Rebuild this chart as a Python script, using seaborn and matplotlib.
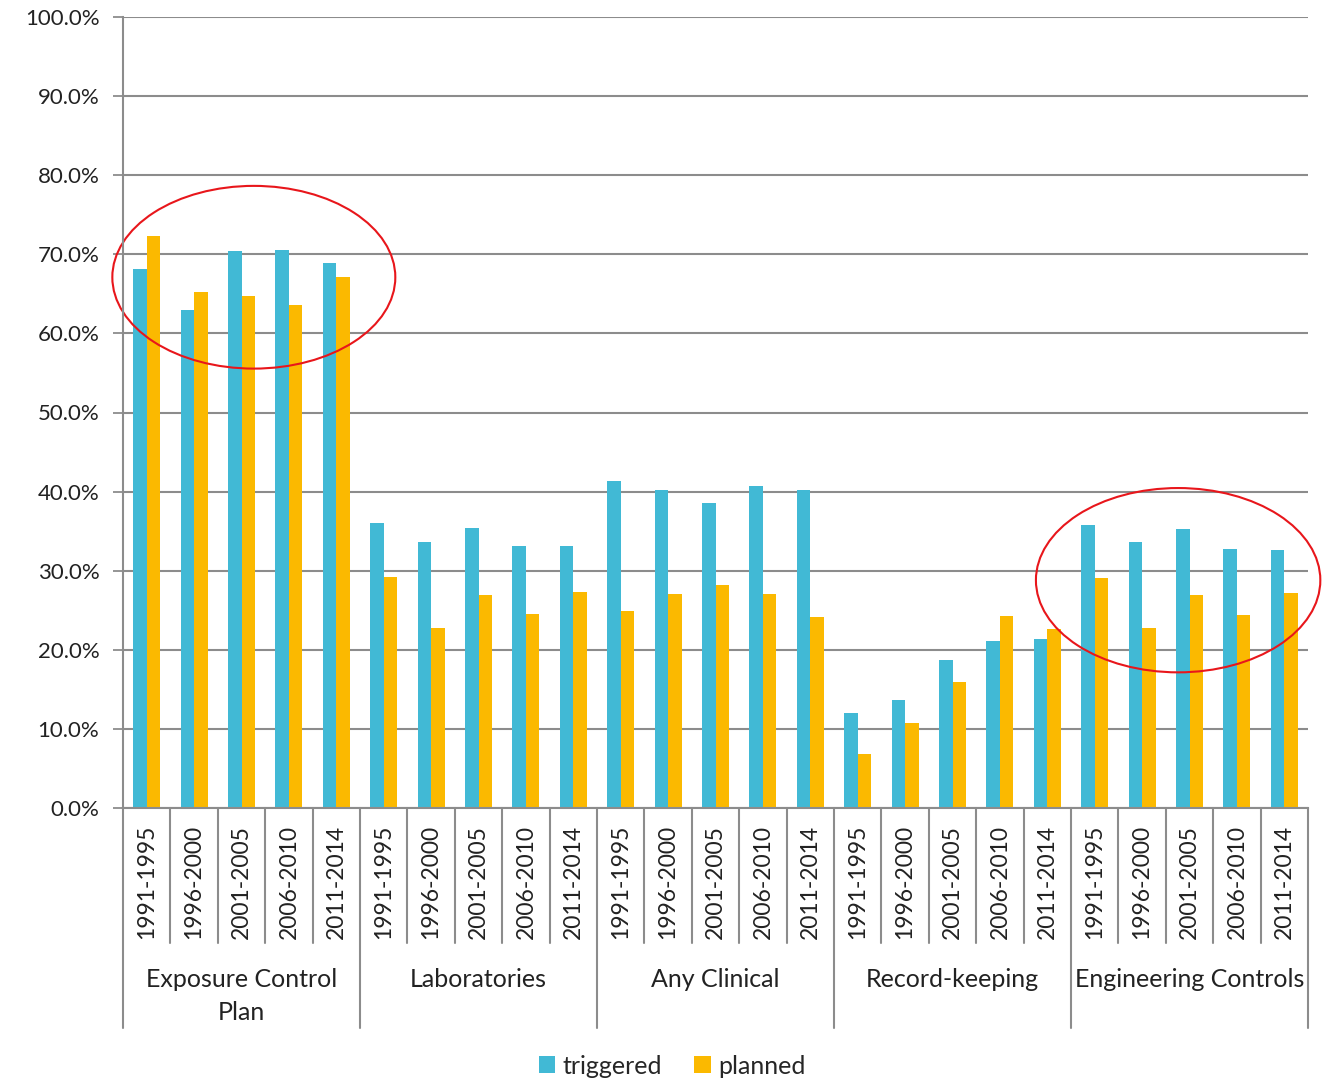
import matplotlib
matplotlib.use("Agg")
import matplotlib.pyplot as plt
import matplotlib.transforms as mtransforms
from matplotlib.patches import Ellipse, Patch
import pandas as pd
import seaborn as sns

# Compliance share by topic and period
groups = ["Exposure Control\nPlan", "Laboratories", "Any Clinical", "Record-keeping", "Engineering Controls"]
periods = ["1991-1995", "1996-2000", "2001-2005", "2006-2010", "2011-2014"]
triggered = [
    [68.2, 63.0, 70.4, 70.6, 68.9],
    [36.0, 33.6, 35.4, 33.1, 33.1],
    [41.4, 40.2, 38.5, 40.7, 40.2],
    [12.0, 13.7, 18.7, 21.1, 21.4],
    [35.8, 33.6, 35.3, 32.8, 32.6],
]
planned = [
    [72.3, 65.2, 64.7, 63.6, 67.1],
    [29.2, 22.7, 26.9, 24.5, 27.3],
    [24.9, 27.0, 28.2, 27.0, 24.2],
    [6.8, 10.8, 15.9, 24.3, 22.6],
    [29.1, 22.7, 26.9, 24.4, 27.2],
]
series_names = ["triggered", "planned"]
colors = {"triggered": "#41B9D5", "planned": "#FBB900"}

rows = []
for gi, g in enumerate(groups):
    for pi, p in enumerate(periods):
        slot = f"{gi}|{p}"
        rows.append({"slot": slot, "series": "triggered", "value": triggered[gi][pi]})
        rows.append({"slot": slot, "series": "planned", "value": planned[gi][pi]})
df = pd.DataFrame(rows)
slots = list(dict.fromkeys(df["slot"]))

sns.set_theme(style="white")
plt.rcParams["font.family"] = ["Lato", "DejaVu Sans"]

fig = plt.figure(figsize=(13.32, 10.82), dpi=100)
ax = fig.add_axes([123 / 1332, 1 - 808 / 1082, (1308 - 123) / 1332, (808 - 17) / 1082])

sns.barplot(data=df, x="slot", y="value", hue="series", order=slots,
            hue_order=series_names, palette=colors, width=0.57, gap=0,
            saturation=1, legend=False, ax=ax, errorbar=None,
            edgecolor="none")

grid_c = "#8C8C8C"
text_c = "#222222"
ax.set_ylim(0, 100)
ax.set_xlim(-0.5, len(slots) - 0.5)
ax.set_yticks(range(0, 101, 10))
ax.set_yticklabels([f"{v:.1f}%" for v in range(0, 101, 10)], fontsize=16, color=text_c)
ax.yaxis.grid(True, color=grid_c, linewidth=1.5)
ax.set_axisbelow(True)
ax.tick_params(axis="y", length=7, width=1.3, color=grid_c, pad=10, left=True)
ax.tick_params(axis="x", length=0, labelbottom=False)
ax.set_xlabel("")
ax.set_ylabel("")
for s in ["top", "right"]:
    ax.spines[s].set_visible(False)
for s in ["left", "bottom"]:
    ax.spines[s].set_color(grid_c)
    ax.spines[s].set_linewidth(1.5)

# Two-level category axis below the plot
trans = mtransforms.blended_transform_factory(ax.transData, ax.transAxes)
h_ax = 791.0
y_short = -135 / h_ax
y_long = -220 / h_ax
n_p = len(periods)
for k in range(len(slots) + 1):
    xb = k - 0.5
    y_end = y_long if k % n_p == 0 else y_short
    ax.plot([xb, xb], [0, y_end], transform=trans, color=grid_c, lw=1.5, clip_on=False)
for k, s in enumerate(slots):
    ax.text(k, -74 / h_ax, s.split("|")[1], transform=trans, rotation=90,
            ha="center", va="center", fontsize=16.5, color=text_c)
for gi, g in enumerate(groups):
    xc = gi * n_p + (n_p - 1) / 2
    ax.text(xc, -160 / h_ax, g, transform=trans, ha="center", va="top",
            fontsize=18, color=text_c, linespacing=1.55)

# Highlight rings
ax.add_patch(Ellipse((2.26, 67.1), 5.97, 23.1, fill=False, edgecolor="#E8161B", lw=1.5, clip_on=False))
ax.add_patch(Ellipse((21.76, 28.8), 6.0, 23.3, fill=False, edgecolor="#E8161B", lw=1.5, clip_on=False))

handles = [Patch(facecolor=colors[n], edgecolor="none") for n in series_names]
fig.legend(handles, series_names, loc="center", bbox_to_anchor=(672 / 1332, 1 - 1066 / 1082),
           ncol=2, frameon=False, fontsize=18, handlelength=0.65, handleheight=0.65,
           handletextpad=0.3, columnspacing=1.3)

fig.savefig("out.png", dpi=100)
